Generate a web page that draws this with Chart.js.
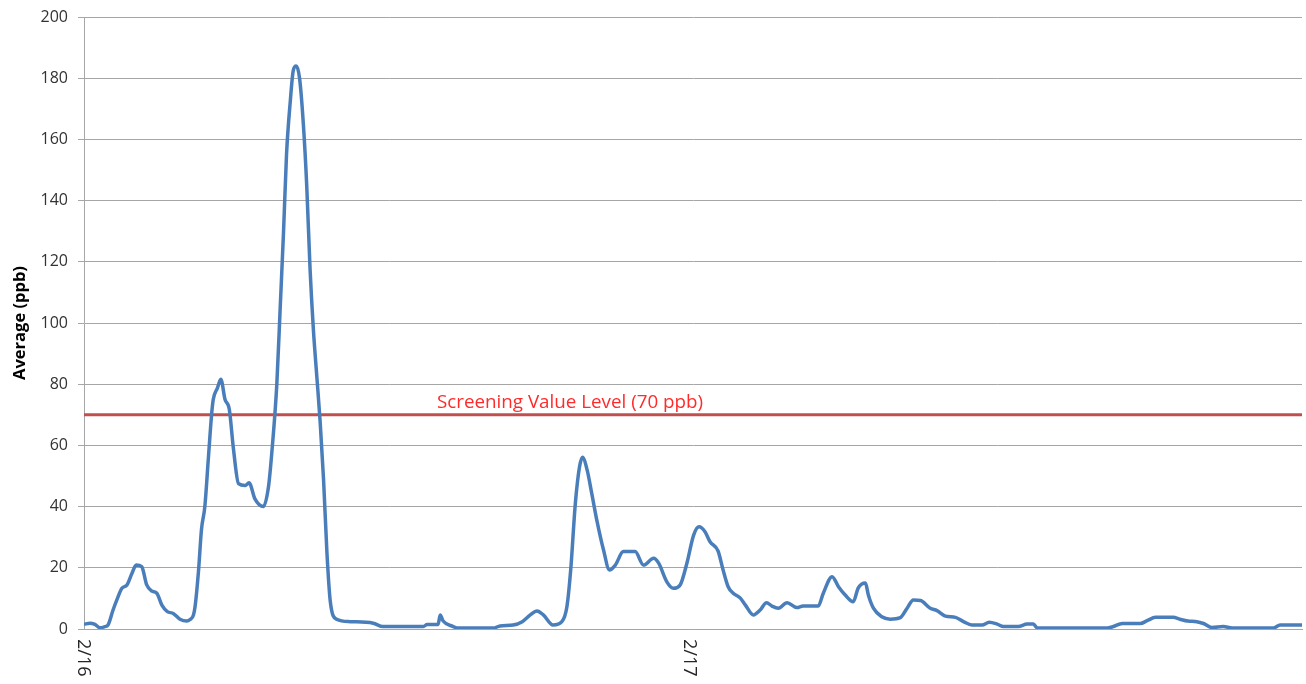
<!DOCTYPE html>
<html>
<head>
<meta charset="utf-8">
<script src="https://cdn.jsdelivr.net/npm/chart.js@4/dist/chart.umd.min.js"></script>
<style>
  html, body { margin: 0; padding: 0; background: #ffffff; }
  #wrap { width: 1306px; height: 684px; }
</style>
</head>
<body>
<div id="wrap"><canvas id="c" width="1306" height="684"></canvas></div>
<script>
// Minutes since 2/16 00:00
const minutes = [0,14,26,38,50,57,69,78,90,102,114,124,137,149,161,173,185,198,212,228,244,252,260,264,272,279,287,295,303,307,317,325,335,345,355,367,383,392,406,426,438,446,458,466,474,481,490,497,504,512,521,529,537,545,553,561,569,577,585,600,632,687,710,806,815,841,846,853,877,886,972,988,1019,1041,1060,1076,1091,1114,1135,1147,1156,1167,1177,1184,1195,1206,1218,1234,1248,1262,1281,1309,1329,1353,1365,1384,1400,1416,1432,1448,1461,1475,1487,1506,1518,1530,1542,1559,1571,1590,1606,1621,1634,1649,1670,1693,1708,1744,1756,1777,1792,1808,1827,1839,1856,1863,1875,1895,1915,1939,1955,1970,1987,2010,2026,2046,2070,2089,2109,2133,2150,2169,2184,2219,2240,2255,2264,2430,2445,2466,2509,2525,2545,2587,2603,2622,2643,2659,2679,2706,2727,2825,2841,2893];
// Average (ppb)
const ppb = [1.5,1.9,1.5,0.4,0.8,1.3,6.2,9.5,13.3,14.4,18.2,20.9,20.4,14.4,12.4,11.7,7.8,5.7,5.1,3.2,2.6,3.1,4.6,7.5,19,32.5,40,55,70,75,78.8,81.6,75,71.9,58.8,47.5,46.9,47.8,42.5,40,46.3,57.5,80,105,130,155,172.5,182.5,184,180,165,145,117.5,97.5,82.5,67.5,48.8,25,9,3.2,2.4,1.9,0.8,0.8,1.5,1.5,4.6,2.6,0.8,0.3,0.3,1,1.3,2.4,4.6,5.9,4.6,1.3,2.4,7.3,19.3,41,53,56.1,52,44.3,35.6,25.8,19.3,20.9,25.3,25.3,20.9,23.1,21.5,15.5,13.3,14.4,21.5,30.7,33.4,31.8,28.5,25.5,19.3,13.8,11.7,10.1,7.8,4.6,6.2,8.6,7.5,6.8,8.6,7,7.5,7.5,11.7,17.1,13.8,11.1,8.9,13.4,15,11.1,6.8,4,3.2,3.7,6.8,9.5,9.3,6.8,6,4.2,3.8,2.4,1.3,1.3,2.2,1.6,0.8,0.8,1.6,1.6,0.4,0.3,0.8,1.8,1.8,2.7,3.8,3.8,3.2,2.6,2.4,1.8,0.5,0.8,0.3,0.3,1.3,1.3];
const dayLabels = ['2/16', '2/17'];
const dayStarts = [0, 1440];
const screeningValue = 70;
const screeningLabel = 'Screening Value Level (70 ppb)';
const yAxisTitle = 'Average (ppb)';

const xMax = minutes[minutes.length - 1];

const dayLabelPlugin = {
  id: 'dayLabels',
  afterDraw(chart) {
    const ctx = chart.ctx;
    const xs = chart.scales.x;
    const area = chart.chartArea;
    ctx.save();
    ctx.fillStyle = '#262626';
    ctx.font = '18px "Open Sans", "Liberation Sans", sans-serif';
    ctx.textAlign = 'left';
    ctx.textBaseline = 'middle';
    dayLabels.forEach((lab, i) => {
      const px = xs.getPixelForValue(dayStarts[i]);
      ctx.save();
      ctx.translate(px - 1, area.bottom + 10);
      ctx.rotate(Math.PI / 2);
      ctx.fillText(lab, 0, 0);
      ctx.restore();
    });
    // screening label
    const ys = chart.scales.y;
    ctx.fillStyle = '#ff2a2a';
    ctx.font = '18.8px "Open Sans", "Liberation Sans", sans-serif';
    ctx.textAlign = 'left';
    ctx.textBaseline = 'alphabetic';
    ctx.fillText(screeningLabel, xs.getPixelForValue(0) + 353, ys.getPixelForValue(screeningValue) - 7);
    ctx.restore();
  }
};

new Chart(document.getElementById('c'), {
  type: 'line',
  data: {
    datasets: [
      {
        label: 'Average',
        data: minutes.map((m, i) => ({ x: m, y: ppb[i] })),
        borderColor: '#4a7ebb',
        borderWidth: 3.5,
        pointRadius: 0,
        fill: false,
        cubicInterpolationMode: 'monotone',
        order: 1
      },
      {
        label: screeningLabel,
        data: [{ x: 0, y: screeningValue }, { x: xMax, y: screeningValue }],
        borderColor: '#c0504d',
        borderWidth: 3,
        pointRadius: 0,
        fill: false,
        order: 2
      }
    ]
  },
  options: {
    responsive: false,
    animation: false,
    events: [],
    layout: { padding: { top: 17, right: 4, left: 0, bottom: 0 } },
    plugins: { legend: { display: false }, tooltip: { enabled: false } },
    scales: {
      x: {
        type: 'linear',
        min: 0,
        max: xMax,
        ticks: { display: false },
        grid: { display: false },
        border: { display: true, color: '#a6a6a6', width: 1 },
        afterFit(s) { s.height = 55; }
      },
      y: {
        min: 0,
        max: 200,
        ticks: {
          stepSize: 20,
          color: '#333333',
          font: { family: '"Open Sans", "Liberation Sans", sans-serif', size: 16 },
          padding: 10
        },
        grid: { color: '#a6a6a6', lineWidth: 1, tickLength: 6 },
        border: { display: true, color: '#a6a6a6', width: 1 },
        title: {
          display: true,
          text: yAxisTitle,
          color: '#000000',
          font: { family: '"Open Sans", "Liberation Sans", sans-serif', size: 16.5, weight: 'bold' },
          padding: { top: 10, bottom: 4 }
        },
        afterFit(s) { s.width = 84; s.paddingTop = 0; s.paddingBottom = 0; }
      }
    }
  },
  plugins: [dayLabelPlugin]
});
</script>
</body>
</html>
